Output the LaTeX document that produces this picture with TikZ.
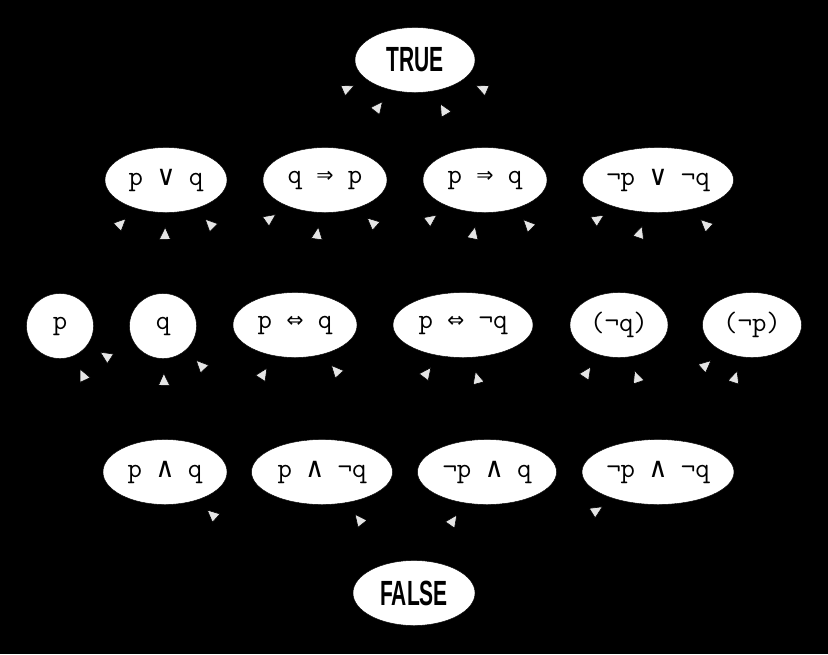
\documentclass[tikz,border=0pt]{standalone}
\usepackage{fontspec}
\usetikzlibrary{shapes.geometric,arrows.meta}
\newfontfamily\symfam{DejaVu Sans Mono}
\newfontfamily\tvfam{Liberation Sans}[FakeStretch=0.6]
\newcommand\sy[1]{{\symfam#1}}

\tikzset{
  fn/.style={ellipse, draw=black, fill=white, inner sep=0pt, minimum height=65pt,
    font=\fontsize{28}{28}\selectfont\ttfamily},
  tv/.style={fn, font=\fontsize{35}{35}\selectfont\tvfam\bfseries},
  up/.style={black, line width=0.6pt, shorten >=14pt,
    -{Triangle[length=13pt,width=12pt,fill=white!90!black]}}
}

\begin{document}
\begin{tikzpicture}[x=1pt,y=1pt]
  \fill[black] (0,0) rectangle (828,-654);

  % top and bottom
  \node[tv, minimum width=120pt] (T) at (415,-60) {TRUE};
  \node[tv, minimum width=122pt] (F) at (414,-593) {FALSE};

  % three true rows
  \node[fn, minimum width=122pt] (porq) at (166,-180) {p \sy{∨} q};
  \node[fn, minimum width=124pt] (qimpp) at (325,-180) {q \sy{⇒} p};
  \node[fn, minimum width=124pt] (pimpq) at (485,-180) {p \sy{⇒} q};
  \node[fn, minimum width=151pt] (nporn) at (658,-180) {¬p \sy{∨} ¬q};

  % two true rows
  \node[fn, minimum width=67pt] (p) at (60,-326) {p};
  \node[fn, minimum width=67pt] (q) at (163,-326) {q};
  \node[fn, minimum width=124pt] (peqq) at (295,-325) {p \sy{⇔} q};
  \node[fn, minimum width=140pt] (peqnq) at (463,-325) {p \sy{⇔} ¬q};
  \node[fn, minimum width=98pt] (nq) at (619,-325) {(¬q)};
  \node[fn, minimum width=99pt] (np) at (752,-325) {(¬p)};

  % one true row
  \node[fn, minimum width=124pt] (pq) at (165,-472) {p \sy{∧} q};
  \node[fn, minimum width=141pt] (pnq) at (322,-472) {p \sy{∧} ¬q};
  \node[fn, minimum width=139pt] (npq) at (487,-472) {¬p \sy{∧} q};
  \node[fn, minimum width=152pt] (npnq) at (658,-472) {¬p \sy{∧} ¬q};

  % edges up to TRUE
  \draw[up] (porq) to[out=27,in=-157] (T);
  \draw[up] (qimpp) to[out=54,in=-128] (T);
  \draw[up] (pimpq) to[out=120,in=-60] (T);
  \draw[up] (nporn) to[out=152,in=-23] (T);

  % edges up to the first row
  \draw[up] (p) to[out=60,in=-136] (porq);
  \draw[up] (q) to[out=89,in=-91] (porq);
  \draw[up] (peqnq) to[out=158,in=-45] (porq);
  \draw[up] (p) to[out=27,in=-145] (qimpp);
  \draw[up] (peqq) to[out=76,in=-98] (qimpp);
  \draw[up] (nq) to[out=157,in=-42] (qimpp);
  \draw[up] (q) to[out=22,in=-144] (pimpq);
  \draw[up] (peqq) to[out=28,in=-102] (pimpq);
  \draw[up] (np) to[out=156,in=-46] (pimpq);
  \draw[up] (peqnq) to[out=38,in=-147] (nporn);
  \draw[up] (nq) to[out=77,in=-109] (nporn);
  \draw[up] (np) to[out=114,in=-43] (nporn);

  % edges up to the second row
  \draw[up] (pq) to[out=130,in=-65] (p);
  \draw[up] (pnq) to[out=152,in=-33] (p);
  \draw[up] (pq) to[out=90,in=-89] (q);
  \draw[up] (npq) to[out=160,in=-46] (q);
  \draw[up] (pq) to[out=45,in=-123] (peqq);
  \draw[up] (npnq) to[out=163,in=-48] (peqq);
  \draw[up] (pnq) to[out=43,in=-127] (peqnq);
  \draw[up] (npq) to[out=96,in=-75] (peqnq);
  \draw[up] (pnq) to[out=21,in=-124] (nq);
  \draw[up] (npnq) to[out=103,in=-71] (nq);
  \draw[up] (npq) to[out=26,in=-139] (np);
  \draw[up] (npnq) to[out=51,in=-108] (np);

  % edges up from FALSE
  \draw[up] (F) to[out=159,in=-42] (pq);
  \draw[up] (F) to[out=127,in=-52] (pnq);
  \draw[up] (F) to[out=62,in=-125] (npq);
  \draw[up] (F) to[out=24,in=-148] (npnq);
\end{tikzpicture}
\end{document}
